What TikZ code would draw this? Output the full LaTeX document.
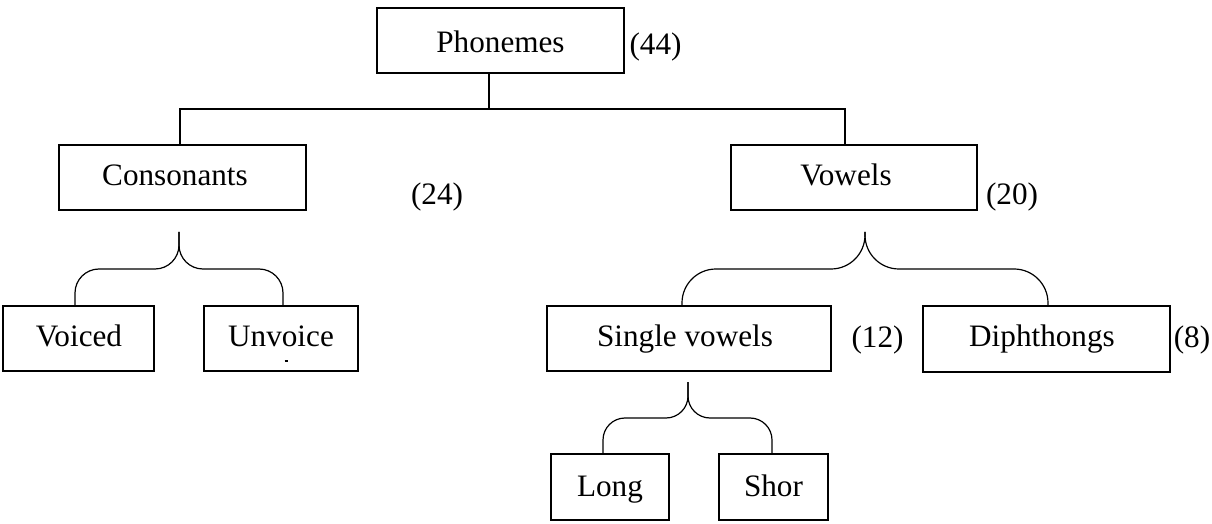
\documentclass[tikz,border=0pt]{standalone}
\usepackage{fontspec}
\setmainfont{Liberation Serif}
\usetikzlibrary{calc}
\begin{document}
\begin{tikzpicture}[x=0.5pt,y=-0.5pt,
  lbl/.style={font=\fontsize{15.6}{18}\selectfont, inner sep=0pt,
              text height=10.2pt, text depth=0pt, anchor=center},
  box/.style={draw, line width=0.6pt, inner sep=0pt},
  link/.style={line width=0.6pt},
  bracearm/.style={line width=0.6pt, rounded corners=12pt}]
\useasboundingbox (0,0) rectangle (1212,524);

% boxes (frames)
\node[box, minimum width=123.5pt, minimum height=32.5pt] (phon)   at (500.5,40.5) {};
\node[box, minimum width=123.5pt, minimum height=32.5pt] (cons)   at (182.5,177.5) {};
\node[box, minimum width=123pt,   minimum height=32.5pt] (vow)    at (854,177.5) {};
\node[box, minimum width=75.5pt,  minimum height=32.5pt] (voiced) at (78.5,338.5) {};
\node[box, minimum width=77pt,    minimum height=32.5pt] (unv)    at (281,338.5) {};
\node[box, minimum width=142pt,   minimum height=32.5pt] (single) at (689,338.5) {};
\node[box, minimum width=123.5pt, minimum height=33pt]   (diph)   at (1046.5,339) {};
\node[box, minimum width=59pt,    minimum height=33pt]   (long)   at (610,487) {};
\node[box, minimum width=54.5pt,  minimum height=33pt]   (shor)   at (773.5,487) {};

% box texts
\node[lbl] (phon-t)   at (500.5,42.5) {Phonemes};
\node[lbl] (cons-t)   at (175,175.5)  {Consonants};
\node[lbl] (vow-t)    at (846,175.5)  {Vowels};
\node[lbl] (voiced-t) at (79,336.5)   {Voiced};
\node[lbl] (unv-t)    at (281,336.5)  {Unvoice};
\node[lbl] (single-t) at (685,336.5)  {Single vowels};
\node[lbl] (diph-t)   at (1042,336)   {Diphthongs};
\node[lbl] (long-t)   at (610,486)    {Long};
\node[lbl] (shor-t)   at (773.5,486)  {Shor};
% stray mark left inside the Unvoice box
\draw[line width=0.6pt] (284.5,361) -- (287.5,361);

% counts
\node[lbl] (n44) at (655.5,44)  {(44)};
\node[lbl] (n24) at (437,194.5) {(24)};
\node[lbl] (n20) at (1012,194.5) {(20)};
\node[lbl] (n12) at (877.5,337) {(12)};
\node[lbl] (n8)  at (1192,337)  {(8)};

% top-level tree connector
\coordinate (jn) at (489,109);
\coordinate (jl) at (180,109);
\coordinate (jr) at (845,109);
\draw[link] (phon.south -| jn) -- (jn);
\draw[link] (cons.north -| jl) |- (jr) -- (vow.north -| jr);

% brace under Consonants
\coordinate (tc) at (179,232);
\draw[bracearm] ($(voiced.north)+(-3.5,0)$) |- ($(tc)+(0,37)$) -- (tc);
\draw[bracearm] ($(unv.north)+(2,0)$) |- ($(tc)+(0,37)$) -- (tc);

% brace under Vowels
\coordinate (tv) at (865,232);
\draw[bracearm, rounded corners=17pt] ($(single.north)+(-7,0)$) |- ($(tv)+(0,37)$) -- (tv);
\draw[bracearm, rounded corners=17pt] ($(diph.north)+(1.5,0)$) |- ($(tv)+(0,37)$) -- (tv);

% brace under Single vowels
\coordinate (ts) at (688,382);
\draw[bracearm, rounded corners=11pt] ($(long.north)+(-7,0)$) |- ($(ts)+(0,36)$) -- (ts);
\draw[bracearm, rounded corners=11pt] ($(shor.north)+(-1.5,0)$) |- ($(ts)+(0,36)$) -- (ts);
\end{tikzpicture}
\end{document}
